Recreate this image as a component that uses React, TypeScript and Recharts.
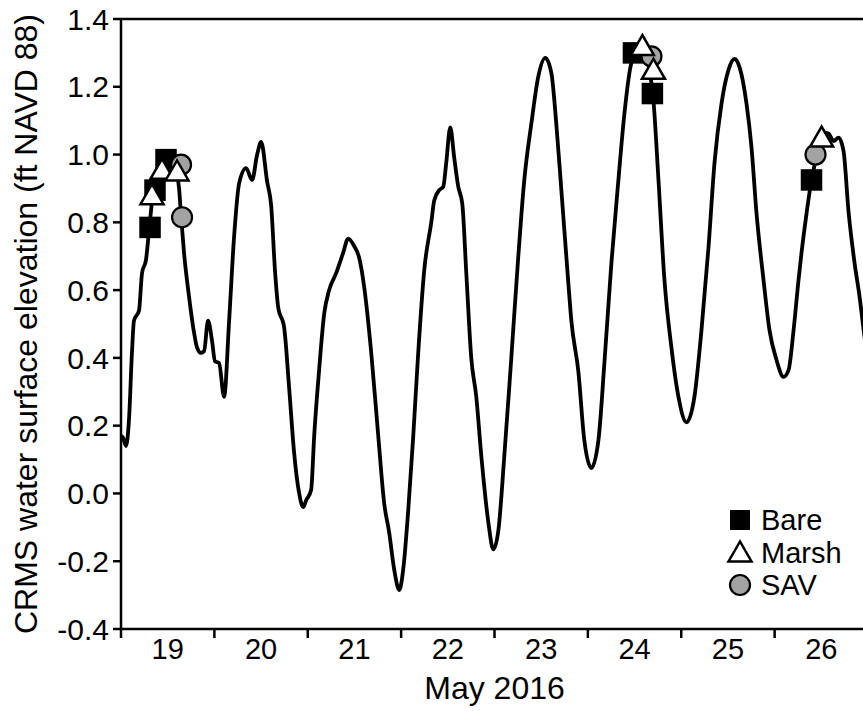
import React from 'react';
import { ComposedChart, Line, Scatter, XAxis, YAxis, ReferenceLine, Legend, Label } from 'recharts';

// CRMS water level, May 2016 (day of month, ft NAVD 88)
const lineDays = [
  19.0, 19.021, 19.054, 19.086, 19.118, 19.139, 19.193, 19.225, 19.268, 19.3, 19.332, 19.386, 19.439, 19.493, 19.547,
  19.6, 19.622, 19.643, 19.675, 19.729, 19.782, 19.815, 19.857, 19.89, 19.932, 19.975, 20.007, 20.05, 20.104, 20.158,
  20.211, 20.265, 20.34, 20.404, 20.458, 20.501, 20.565, 20.608, 20.651, 20.683, 20.747, 20.801, 20.854, 20.908, 20.951,
  20.983, 21.036, 21.069, 21.122, 21.176, 21.229, 21.304, 21.379, 21.433, 21.497, 21.551, 21.604, 21.68, 21.755, 21.819,
  21.872, 21.926, 21.98, 22.022, 22.076, 22.13, 22.183, 22.248, 22.323, 22.355, 22.408, 22.451, 22.483, 22.526, 22.569,
  22.612, 22.655, 22.698, 22.751, 22.805, 22.859, 22.934, 22.987, 23.041, 23.105, 23.18, 23.255, 23.319, 23.394, 23.469,
  23.544, 23.609, 23.662, 23.716, 23.791, 23.823, 23.898, 23.962, 24.037, 24.113, 24.177, 24.252, 24.327, 24.391, 24.466,
  24.541, 24.616, 24.659, 24.702, 24.756, 24.82, 24.895, 24.97, 25.056, 25.141, 25.216, 25.292, 25.356, 25.431, 25.506,
  25.57, 25.624, 25.699, 25.752, 25.806, 25.881, 25.945, 26.02, 26.095, 26.149, 26.203, 26.256, 26.288, 26.342, 26.395,
  26.449, 26.503, 26.524, 26.578, 26.631, 26.685, 26.738, 26.792, 26.856, 26.91, 26.964, 27.0,
];
const lineLevels = [
  0.17, 0.165, 0.14, 0.22, 0.42, 0.51, 0.54, 0.65, 0.69, 0.775, 0.86, 0.93, 0.97, 0.985, 0.98,
  0.94, 0.9, 0.82, 0.71, 0.58, 0.475, 0.43, 0.415, 0.42, 0.51, 0.45, 0.39, 0.385, 0.285, 0.51,
  0.757, 0.915, 0.96, 0.925, 1.0, 1.037, 0.92, 0.85, 0.65, 0.55, 0.49, 0.31, 0.12, 0.0, -0.04,
  -0.02, 0.01, 0.17, 0.365, 0.53, 0.6, 0.65, 0.71, 0.752, 0.73, 0.695, 0.61, 0.415, 0.17, -0.03,
  -0.115, -0.225, -0.285, -0.225, -0.05, 0.17, 0.415, 0.66, 0.8, 0.865, 0.895, 0.905, 0.975, 1.08, 0.99,
  0.905, 0.855, 0.65, 0.4, 0.285, 0.11, -0.085, -0.165, -0.11, 0.11, 0.4, 0.7, 0.925, 1.09, 1.23,
  1.285, 1.24, 1.09, 0.895, 0.62, 0.51, 0.36, 0.157, 0.075, 0.157, 0.385, 0.68, 0.925, 1.12, 1.27,
  1.305, 1.29, 1.25, 1.16, 0.925, 0.63, 0.43, 0.285, 0.21, 0.285, 0.48, 0.727, 0.975, 1.15, 1.25,
  1.282, 1.258, 1.15, 1.022, 0.827, 0.63, 0.482, 0.394, 0.344, 0.364, 0.482, 0.63, 0.71, 0.827, 0.925,
  0.993, 1.05, 1.065, 1.062, 1.04, 1.05, 1.01, 0.83, 0.68, 0.58, 0.46, 0.4,
];

// survey observations
const bareDays = [19.311, 19.364, 19.482, 24.488, 24.691, 26.395];
const bareLevels = [0.785, 0.895, 0.985, 1.3, 1.18, 0.925];
const marshDays = [19.332, 19.439, 19.6, 24.584, 24.702, 26.503];
const marshLevels = [0.88, 0.955, 0.95, 1.32, 1.25, 1.05];
const savDays = [19.643, 19.654, 24.681, 26.438];
const savLevels = [0.97, 0.815, 1.29, 1.0];

const dayTicks = [19, 20, 21, 22, 23, 24, 25, 26];
const levelTicks = [-0.4, -0.2, 0, 0.2, 0.4, 0.6, 0.8, 1.0, 1.2, 1.4];
const legendNames = ['Bare', 'Marsh', 'SAV'];

const FONT = '"Liberation Sans", Arial, sans-serif';
const CHART_W = 868;
const CHART_H = 711;
const MARGIN = { top: 19, right: 0, left: 21, bottom: 0 };
const Y_AXIS_W = 100;
const X_AXIS_H = 82;
const PX_PER_DAY = (CHART_W - MARGIN.left - Y_AXIS_W - MARGIN.right) / 8;
const PLOT_MID_Y = (MARGIN.top + (CHART_H - X_AXIS_H)) / 2;

const zip = (xs: number[], ys: number[]) => xs.map((day, i) => ({ day, level: ys[i] }));
const tideData = zip(lineDays, lineLevels);
const bareData = zip(bareDays, bareLevels);
const marshData = zip(marshDays, marshLevels);
const savData = zip(savDays, savLevels);

const SquareMark = ({ cx, cy }: any) => (
  <rect x={cx - 10} y={cy - 10} width={20} height={20} fill="#000" stroke="#000" strokeWidth={1.5} />
);
const TriangleMark = ({ cx, cy }: any) => (
  <polygon
    points={`${cx},${cy - 11} ${cx - 11.5},${cy + 9} ${cx + 11.5},${cy + 9}`}
    fill="#fff"
    stroke="#000"
    strokeWidth={2.5}
    strokeLinejoin="miter"
  />
);
const CircleMark = ({ cx, cy }: any) => (
  <circle cx={cx} cy={cy} r={10} fill="#a3a3a3" stroke="#000" strokeWidth={2.2} />
);

// day labels sit at noon, between the midnight ticks
function DayTick(props: any) {
  const { x, y, payload } = props;
  return (
    <text x={x + PX_PER_DAY / 2} y={y + 19} textAnchor="middle" fontSize={29} fill="#000" fontFamily={FONT}>
      {payload.value}
    </text>
  );
}

function YTitle() {
  return (
    <text
      transform={`translate(37, ${PLOT_MID_Y}) rotate(-90)`}
      textAnchor="middle"
      fontSize={32}
      fill="#000"
      fontFamily={FONT}
    >
      CRMS water surface elevation (ft NAVD 88)
    </text>
  );
}

function XTitle() {
  const cx = MARGIN.left + Y_AXIS_W + PX_PER_DAY * 4;
  return (
    <text x={cx} y={699} textAnchor="middle" fontSize={32} fill="#000" fontFamily={FONT}>
      May 2016
    </text>
  );
}

function LegendBox() {
  const marks = [
    (y: number) => <rect x={5} y={y - 10} width={20} height={20} fill="#000" />,
    (y: number) => (
      <polygon points={`15,${y - 11} 3.5,${y + 9} 26.5,${y + 9}`} fill="#fff" stroke="#000" strokeWidth={2.5} />
    ),
    (y: number) => <circle cx={15} cy={y} r={10} fill="#a3a3a3" stroke="#000" strokeWidth={2.2} />,
  ];
  return (
    <svg width={140} height={100}>
      {legendNames.map((name, i) => {
        const y = 15 + i * 32.5;
        return (
          <g key={name}>
            {marks[i](y)}
            <text x={36} y={y + 10} fontSize={29} fill="#000" fontFamily={FONT}>
              {name}
            </text>
          </g>
        );
      })}
    </svg>
  );
}

export default function App() {
  return (
    <div style={{ position: 'absolute', left: 0, top: 0, width: 863, height: 711, overflow: 'hidden', background: '#fff' }}>
      <ComposedChart width={CHART_W} height={CHART_H} margin={MARGIN}>
        <XAxis
          type="number"
          dataKey="day"
          domain={[19, 27]}
          ticks={dayTicks}
          interval={0}
          height={X_AXIS_H}
          stroke="#000"
          axisLine={{ stroke: '#000', strokeWidth: 2.5 }}
          tickLine={{ stroke: '#000', strokeWidth: 2.5 }}
          tickSize={9}
          tick={<DayTick />}
          allowDataOverflow
        >
          <Label content={<XTitle />} />
        </XAxis>
        <YAxis
          type="number"
          dataKey="level"
          domain={[-0.4, 1.4]}
          ticks={levelTicks}
          interval={0}
          width={Y_AXIS_W}
          axisLine={{ stroke: '#000', strokeWidth: 2.5 }}
          tickLine={{ stroke: '#000', strokeWidth: 2.5 }}
          tickSize={8}
          tickMargin={4}
          tick={{ fontSize: 30, fill: '#000', fontFamily: FONT }}
          tickFormatter={(v: number) => v.toFixed(1)}
          allowDataOverflow
        >
          <Label content={<YTitle />} />
        </YAxis>
        <ReferenceLine y={1.4} stroke="#000" strokeWidth={2.5} />
        <Line
          data={tideData}
          dataKey="level"
          type="monotone"
          stroke="#000"
          strokeWidth={3.8}
          dot={false}
          activeDot={false}
          isAnimationActive={false}
          legendType="none"
        />
        <Scatter name="Bare" data={bareData} dataKey="level" shape={<SquareMark />} isAnimationActive={false} />
        <Scatter name="SAV" data={savData} dataKey="level" shape={<CircleMark />} isAnimationActive={false} />
        <Scatter name="Marsh" data={marshData} dataKey="level" shape={<TriangleMark />} isAnimationActive={false} />
        <Legend
          layout="vertical"
          align="center"
          verticalAlign="middle"
          content={<LegendBox />}
          wrapperStyle={{ position: 'absolute', left: 725, top: 505, width: 140, height: 100 }}
        />
      </ComposedChart>
    </div>
  );
}
